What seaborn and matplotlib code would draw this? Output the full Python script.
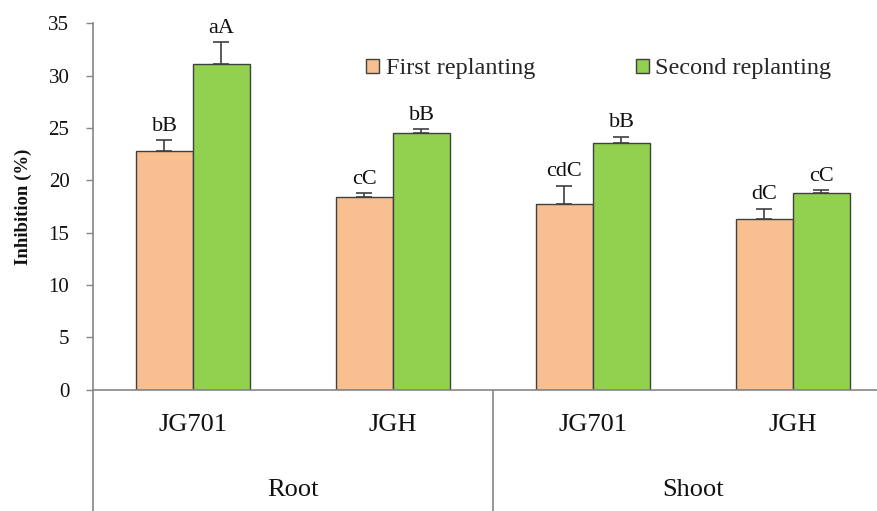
import matplotlib
matplotlib.use("Agg")
import matplotlib.pyplot as plt
import matplotlib.transforms as mtransforms
from matplotlib.patches import Patch
import seaborn as sns
import pandas as pd

# data
tissues = ["Root", "Root", "Shoot", "Shoot"]
cultivars = ["JG701", "JGH", "JG701", "JGH"]
first_vals = [22.85, 18.45, 17.75, 16.3]
first_err = [1.0, 0.3, 1.75, 1.0]
second_vals = [31.1, 24.57, 23.56, 18.77]
second_err = [2.1, 0.33, 0.63, 0.3]
first_letters = ["bB", "cC", "cdC", "dC"]
second_letters = ["aA", "bB", "bB", "cC"]
series = ["First replanting", "Second replanting"]

peach = "#F8C090"
green = "#92D050"
edge = "#404040"
gray = "#868686"
txt = "#111111"

keys = [f"{t} {c}" for t, c in zip(tissues, cultivars)]
df = pd.DataFrame({
    "group": keys * 2,
    "series": [series[0]] * 4 + [series[1]] * 4,
    "value": first_vals + second_vals,
})

sns.set_theme(style="white")
plt.rcParams["font.family"] = ["Liberation Serif", "DejaVu Serif"]

fig = plt.figure(figsize=(8.78, 5.11), dpi=100)
ax = fig.add_axes([93 / 878, 121.5 / 511, 785 / 878, 366 / 511])

sns.barplot(data=df, x="group", y="value", hue="series", order=keys,
            hue_order=series, palette=[peach, green], width=0.57,
            errorbar=None, edgecolor=edge, linewidth=1.0, saturation=1,
            legend=False, ax=ax)

errs = [first_err, second_err]
letters = [first_letters, second_letters]
for cont, e, lab in zip(ax.containers, errs, letters):
    for bar, ee, tt in zip(cont, e, lab):
        cx = bar.get_x() + bar.get_width() / 2
        h = bar.get_height()
        ax.errorbar(cx, h, yerr=[[0], [ee]], fmt="none", ecolor=edge,
                    elinewidth=1.2, capsize=6, capthick=1.2)
        ax.annotate(tt, (cx, h + ee), xytext=(0, 3), textcoords="offset points",
                    ha="center", va="bottom", fontsize=16, color=txt)

ax.set_ylim(0, 35)
ax.set_xlim(-0.5, -0.5 + 785 / 200)
ax.set_yticks(range(0, 36, 5))
ax.tick_params(axis="y", left=True, length=5, width=1, color=gray,
               labelsize=15, pad=12, labelcolor=txt)
ax.tick_params(axis="x", bottom=False, labelbottom=False)
ax.set_xlabel("")
ax.set_ylabel("Inhibition (%)", fontsize=13.5, fontweight="bold",
              labelpad=12, color=txt)

for s in ["top", "right"]:
    ax.spines[s].set_visible(False)
for s in ["left", "bottom"]:
    ax.spines[s].set_color(gray)
    ax.spines[s].set_linewidth(1.2)

trans = mtransforms.blended_transform_factory(ax.transData, ax.transAxes)
for xv in [-0.5, 1.5]:
    ax.plot([xv, xv], [0, -0.34], transform=trans, color=gray, lw=1.2,
            clip_on=False)

for i, c in enumerate(cultivars):
    ax.text(i, -0.097, c, transform=trans, ha="center", va="center",
            fontsize=19, color=txt)
ax.text(0.5, -0.275, "Root", transform=trans, ha="center", va="center",
        fontsize=19, color=txt)
ax.text(2.5, -0.275, "Shoot", transform=trans, ha="center", va="center",
        fontsize=19, color=txt)

handles = [Patch(facecolor=peach, edgecolor=edge, linewidth=1.0),
           Patch(facecolor=green, edgecolor=edge, linewidth=1.0)]
fig.legend(handles, series, loc="center left", bbox_to_anchor=(0.417, 0.865),
           ncol=2, frameon=False, fontsize=17.5, handlelength=0.55,
           handleheight=0.55, handletextpad=0.25, borderaxespad=0,
           borderpad=0, columnspacing=4.15)

fig.savefig("out.png", dpi=100)
